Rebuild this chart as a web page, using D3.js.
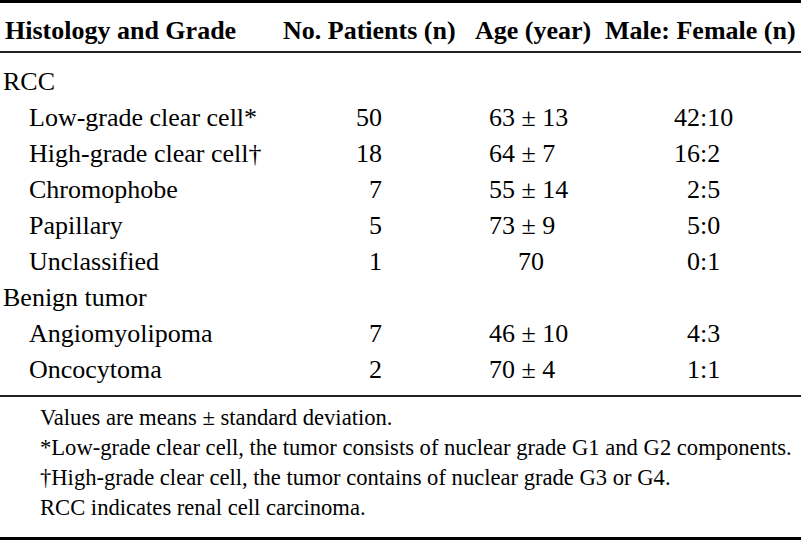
<!DOCTYPE html>
<html>
<head>
<meta charset="utf-8">
<script src="https://cdn.jsdelivr.net/npm/d3@7"></script>
<style>
  html, body { margin: 0; padding: 0; background: #fff; }
  svg { display: block; }
  text { font-family: "Liberation Serif", "Times New Roman", Times, serif; fill: #000; }
</style>
</head>
<body>
<svg id="chart" width="801" height="544"></svg>
<script>
// ---- data ----
const headers = ["Histology and Grade", "No. Patients (n)", "Age (year)", "Male: Female (n)"];
const rowLabels = ["RCC", "Low-grade clear cell*", "High-grade clear cell\u2020", "Chromophobe", "Papillary", "Unclassified", "Benign tumor", "Angiomyolipoma", "Oncocytoma"];
const rowIsGroup = [true, false, false, false, false, false, true, false, false];
const patients = [null, 50, 18, 7, 5, 1, null, 7, 2];
const ages = [null, "63 \u00b1 13", "64 \u00b1 7", "55 \u00b1 14", "73 \u00b1 9", "70", null, "46 \u00b1 10", "70 \u00b1 4"];
const maleFemale = [null, "42:10", "16:2", "2:5", "5:0", "0:1", null, "4:3", "1:1"];
const footnotes = [
  "Values are means \u00b1 standard deviation.",
  "*Low-grade clear cell, the tumor consists of nuclear grade G1 and G2 components.",
  "\u2020High-grade clear cell, the tumor contains of nuclear grade G3 or G4.",
  "RCC indicates renal cell carcinoma."
];

// ---- layout ----
const W = 801, H = 544;
const svg = d3.select("#chart");
svg.append("rect").attr("width", W).attr("height", H).attr("fill", "#fff");

const rowIdx = d3.range(rowLabels.length);
const y = d3.scaleLinear().domain([0, rowLabels.length - 1]).range([90, 378]);
const fy = d3.scaleLinear().domain([0, footnotes.length - 1]).range([425, 515]);

const headerX = [5, 283, 475, 605];
const labelX = d => rowIsGroup[d] ? 3 : 29;
const numRight = 382;
const ageLeft = 489, ageCenter = 531;
const colonX = 700;

// rules
svg.append("rect").attr("x", 0).attr("y", 0).attr("width", W).attr("height", 3).attr("fill", "#000");
svg.append("rect").attr("x", 0).attr("y", 51).attr("width", W).attr("height", 2).attr("fill", "#222");
svg.append("rect").attr("x", 0).attr("y", 395).attr("width", W).attr("height", 2).attr("fill", "#222");
svg.append("rect").attr("x", 0).attr("y", 537).attr("width", W).attr("height", 3).attr("fill", "#000");

// header
svg.selectAll("text.hdr").data(headers).join("text")
  .attr("class", "hdr")
  .attr("x", (d, i) => headerX[i])
  .attr("y", 39)
  .attr("font-size", 26)
  .attr("font-weight", "bold")
  .text(d => d);

// row labels
svg.selectAll("text.lbl").data(rowIdx).join("text")
  .attr("class", "lbl")
  .attr("x", labelX)
  .attr("y", d => y(d))
  .attr("font-size", 26)
  .text(d => rowLabels[d]);

// patients
svg.selectAll("text.pat").data(rowIdx.filter(i => patients[i] != null)).join("text")
  .attr("class", "pat")
  .attr("x", numRight)
  .attr("y", d => y(d))
  .attr("text-anchor", "end")
  .attr("font-size", 26)
  .text(d => patients[d]);

// ages
svg.selectAll("text.age").data(rowIdx.filter(i => ages[i] != null)).join("text")
  .attr("class", "age")
  .attr("x", d => ages[d].includes("\u00b1") ? ageLeft : ageCenter)
  .attr("text-anchor", d => ages[d].includes("\u00b1") ? "start" : "middle")
  .attr("y", d => y(d))
  .attr("font-size", 26)
  .text(d => ages[d]);

// male:female aligned on colon
const tmp = svg.append("text").attr("font-size", 26).attr("visibility", "hidden");
function textWidth(s, size) { tmp.attr("font-size", size).text(s); return tmp.node().getComputedTextLength(); }
svg.selectAll("text.mf").data(rowIdx.filter(i => maleFemale[i] != null)).join("text")
  .attr("class", "mf")
  .attr("x", d => colonX - textWidth(maleFemale[d].split(":")[0], 26))
  .attr("y", d => y(d))
  .attr("font-size", 26)
  .text(d => maleFemale[d]);

// footnotes: condensed face, longest line ends near right edge
const fnSize = 23.5;
const longest = d3.max(footnotes, f => textWidth(f, fnSize));
const sx = Math.min(1, 752 / longest);
tmp.remove();
svg.selectAll("text.fn").data(footnotes).join("text")
  .attr("class", "fn")
  .attr("transform", (d, i) => `translate(40,${fy(i)}) scale(${sx},1)`)
  .attr("font-size", fnSize)
  .text(d => d);
</script>
</body>
</html>
